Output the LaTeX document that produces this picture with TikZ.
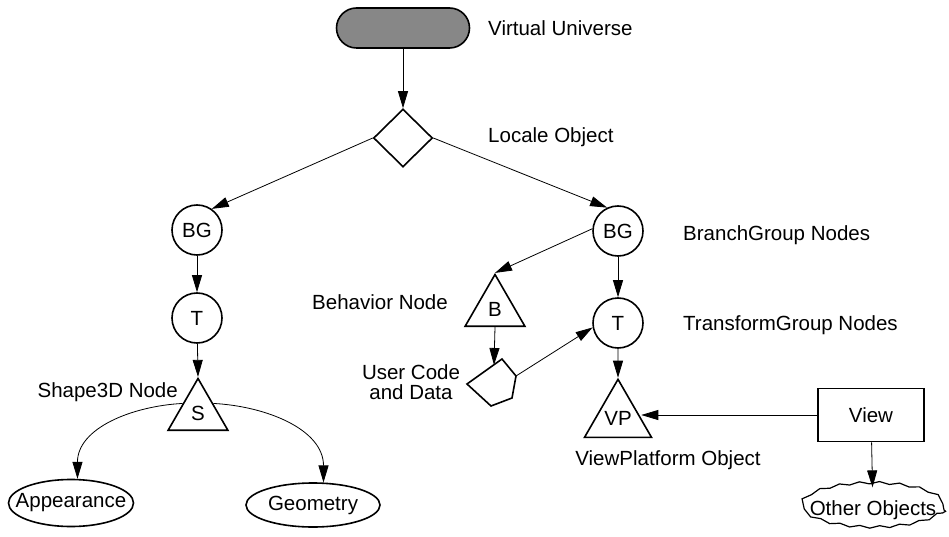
\documentclass[tikz,border=0pt]{standalone}
\usepackage{fontspec}
\setmainfont{Liberation Sans}
\usetikzlibrary{shapes.geometric,arrows.meta,decorations.pathmorphing}
\definecolor{vugray}{RGB}{135,135,135}
\tikzset{
	obj/.style={draw, line width=1.6pt, inner sep=0pt},
	grp/.style={obj, circle, minimum size=50pt},
	leaf/.style={obj, regular polygon, regular polygon sides=3, minimum size=69pt},
	comp/.style={obj, ellipse},
	lbl/.style={inner sep=0pt},
	link/.style={line width=0.8pt, -{Triangle[length=17pt,width=10pt]}}
}
\begin{document}
\begin{tikzpicture}[x=1pt, y=1pt, font=\fontsize{20.5}{24}\selectfont]
\useasboundingbox (0, 0) rectangle (949, 536);

\node[obj, fill=vugray, rounded corners=20pt, minimum width=133pt, minimum height=40pt] (vu) at (403, 508) {};
\node[obj, diamond, minimum width=59pt, minimum height=58pt] (locale) at (403, 398) {};

\node[grp] (lbg) at (197, 306) {BG};
\node[grp] (lt) at (197, 218) {T};
\node[leaf] (s) at (198, 123) {S};
\node[comp, minimum width=125pt, minimum height=47pt, label=center:Appearance] (app) at (71, 33) {};
\node[comp, minimum width=134pt, minimum height=44pt, label=center:Geometry] (geo) at (313, 31) {};

\node[grp] (rbg) at (618, 305) {BG};
\node[grp] (rt) at (618, 213) {T};
\node[leaf] (vp) at (618, 118) {VP};
\node[leaf] (b) at (495, 227) {B};

\draw[line width=1.6pt] (467, 152) -- (502, 177) -- (516, 160) -- (512, 138) -- (491, 130) -- cycle;
\coordinate (ucdin) at (494, 171);
\coordinate (ucdout) at (516, 160);

\node[obj, minimum width=106pt, minimum height=53pt] (view) at (871, 121) {View};
\node[draw, line width=1.2pt, ellipse, inner sep=0pt, minimum width=142pt, minimum height=44pt, decorate, decoration={snake, amplitude=1.2pt, segment length=20pt}, label=center:{Other Objects}] (other) at (873, 26) {};

\node[lbl, anchor=west] (vulbl) at (488, 508) {Virtual Universe};
\node[lbl, anchor=west] (localelbl) at (488, 399) {Locale Object};
\node[lbl, anchor=west] (bglbl) at (683, 301) {BranchGroup Nodes};
\node[lbl, anchor=west] (tglbl) at (683, 211) {TransformGroup Nodes};
\node[lbl, anchor=east] (blbl) at (448, 234) {Behavior Node};
\node[lbl, anchor=east] (slbl) at (178, 144) {Shape3D Node};
\node[lbl] (vplbl) at (668, 76) {ViewPlatform Object};
\node[lbl, align=center, font=\fontsize{20.5}{20.5}\selectfont] (ucdlbl) at (411, 154) {User Code\\and Data};

\draw[link] (vu) -- (locale);
\draw[link] (locale.west) -- (lbg.55);
\draw[link] (locale.east) -- (rbg.115);
\draw[link] (lbg) -- (lt);
\draw[link] (lt) -- (s.north);
\draw[link] (s.148) to[out=183, in=90] (app.75);
\draw[link] (s.32) to[out=-3, in=90] (geo.65);
\draw[link] (rbg) -- (rt);
\draw[link] (rt) -- (vp.north);
\draw[link] (rbg.175) -- (b.north);
\draw[link] (b.south) -- (ucdin);
\draw[link] (ucdout) -- (rt.190);
\draw[link] (view.west) -- (view.west -| vp.east);
\draw[link] (view) -- (other);
\end{tikzpicture}
\end{document}
